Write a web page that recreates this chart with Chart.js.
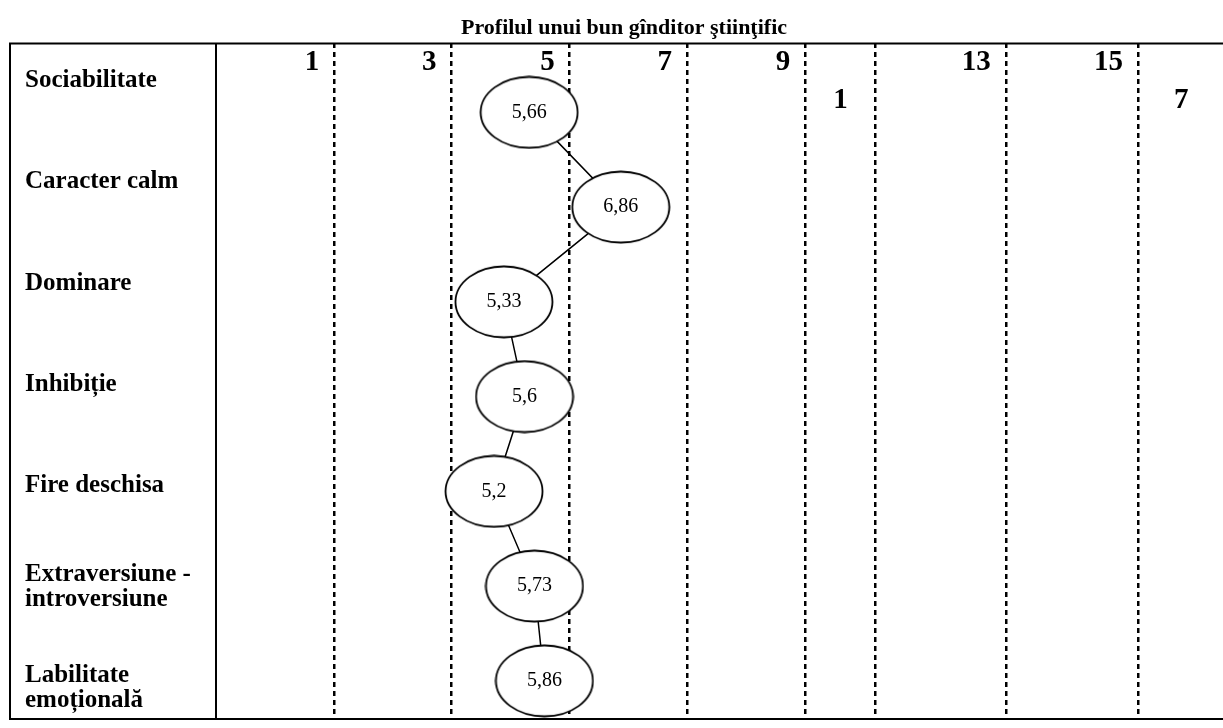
<!DOCTYPE html>
<html>
<head>
<meta charset="utf-8">
<title>Profilul unui bun gînditor ştiinţific</title>
<script src="https://cdn.jsdelivr.net/npm/chart.js@4"></script>
<style>
  html, body { margin: 0; padding: 0; background: #fff; }
</style>
</head>
<body>
<canvas id="chart" width="1223" height="728"></canvas>
<script>
const title = 'Profilul unui bun gînditor ştiinţific';
const traits = ['Sociabilitate', 'Caracter calm', 'Dominare', 'Inhibiție', 'Fire deschisa', 'Extraversiune -\nintroversiune', 'Labilitate\nemoțională'];
const scores = [5.66, 6.86, 5.33, 5.6, 5.2, 5.73, 5.86];
// table header; the narrow columns wrap their last digit onto a second line
const headerRow = ['1', '3', '5', '7', '9', '', '13', '15', ''];
const headerWrap = ['', '', '', '', '', '1', '', '', '7'];

// column widths of the table as printed (not equal in the document)
const columnWidths = [119, 118, 119, 118, 119, 71, 131, 133, 79];
const columnEdges = [];
columnWidths.reduce((sum, w) => { columnEdges.push(sum + w); return sum + w; }, 0);
const tableWidth = columnEdges[columnEdges.length - 1];

const serif = "'Liberation Serif', 'Times New Roman', serif";

// white ellipse used as the point marker
const makeEllipse = (w, h) => {
    const c = document.createElement('canvas');
    c.width = w;
    c.height = h;
    const g = c.getContext('2d');
    g.beginPath();
    g.ellipse(w / 2, h / 2, w / 2 - 1.5, h / 2 - 1.5, 0, 0, Math.PI * 2);
    g.fillStyle = '#fff';
    g.fill();
    g.lineWidth = 1.8;
    g.strokeStyle = '#000';
    g.stroke();
    return c;
};

// no extra room for labels at the ends of the axes
const noPadding = s => {
    s.paddingLeft = 0;
    s.paddingRight = 0;
    s.paddingTop = 0;
    s.paddingBottom = 0;
};

const scoreLabels = {
    id: 'scoreLabels',
    afterDatasetsDraw(chart) {
        const { ctx } = chart;
        const meta = chart.getDatasetMeta(0);
        ctx.save();
        ctx.font = `20px ${serif}`;
        ctx.fillStyle = '#000';
        ctx.textAlign = 'center';
        ctx.textBaseline = 'middle';
        meta.data.forEach((pt, i) => {
            ctx.fillText(String(scores[i]).replace('.', ','), pt.x, pt.y);
        });
        ctx.restore();
    }
};

// outer frame of the table and the divider after the label column
const tableLines = {
    id: 'tableLines',
    afterDraw(chart) {
        const { ctx, chartArea: a, scales: { y } } = chart;
        const left = y.left - 15;
        ctx.save();
        ctx.strokeStyle = '#000';
        ctx.lineWidth = 2;
        ctx.beginPath();
        ctx.moveTo(chart.width, a.top);
        ctx.lineTo(left, a.top);
        ctx.lineTo(left, a.bottom);
        ctx.lineTo(chart.width, a.bottom);
        ctx.moveTo(a.left, a.top);
        ctx.lineTo(a.left, a.bottom);
        ctx.stroke();
        ctx.restore();
    }
};

const headerAxis = (labels, padding, labelOffset, grid) => ({
    type: 'linear',
    axis: 'x',
    position: 'top',
    min: 0,
    max: tableWidth,
    afterBuildTicks: s => { s.ticks = columnEdges.map(v => ({ value: v })); },
    afterFit: s => { s.height = 0; noPadding(s); },
    grid,
    border: { display: false, dash: [5, 4] },
    ticks: {
        autoSkip: false,
        maxRotation: 0,
        mirror: true,
        align: 'end',
        labelOffset,
        padding,
        color: '#000',
        font: { family: serif, size: 29, weight: 'bold', lineHeight: 1.2 },
        callback: (v, i) => labels[i]
    }
});

const ctx = document.getElementById('chart').getContext('2d');
const chart = new Chart(ctx, {
    type: 'line',
    data: {
        datasets: [{
            data: scores.map((v, i) => ({ x: v, y: i })),
            borderColor: '#000',
            borderWidth: 1.5,
            tension: 0,
            pointStyle: makeEllipse(100, 74),
            pointRadius: 5,
            xAxisID: 'x',
            yAxisID: 'yRows'
        }]
    },
    options: {
        responsive: false,
        animation: false,
        layout: { padding: { left: 25, right: 0, top: 0, bottom: 9 } },
        plugins: {
            legend: { display: false },
            tooltip: { enabled: false },
            title: {
                display: true,
                text: title,
                color: '#000',
                font: { family: serif, size: 22, weight: 'bold', lineHeight: 1.2 },
                padding: { top: 15, bottom: 2 }
            }
        },
        scales: {
            x: { type: 'linear', axis: 'x', display: false, min: 1.56, max: 14.66 },
            // the ellipses sit a little lower than their labels in the table
            yRows: { type: 'linear', axis: 'y', display: false, reverse: true, min: -0.728, max: 6.403 },
            y: {
                type: 'linear',
                axis: 'y',
                position: 'left',
                reverse: true,
                min: -0.365,
                max: 6.302,
                afterBuildTicks: s => { s.ticks = traits.map((t, i) => ({ value: i })); },
                afterFit: s => { s.width = 191; noPadding(s); },
                grid: { display: false },
                border: { display: false },
                ticks: {
                    autoSkip: false,
                    crossAlign: 'far',
                    color: '#000',
                    font: { family: serif, size: 25, weight: 'bold', lineHeight: 1 },
                    callback: v => traits[v].split('\n')
                }
            },
            header: headerAxis(headerRow, 2, -15, {
                drawTicks: false,
                lineWidth: 2.5,
                color: c => c.index === columnEdges.length - 1 ? 'rgba(0,0,0,0)' : '#000'
            }),
            headerWrap: headerAxis(headerWrap, 40, -28, { display: false })
        }
    },
    plugins: [scoreLabels, tableLines]
});
</script>
</body>
</html>
